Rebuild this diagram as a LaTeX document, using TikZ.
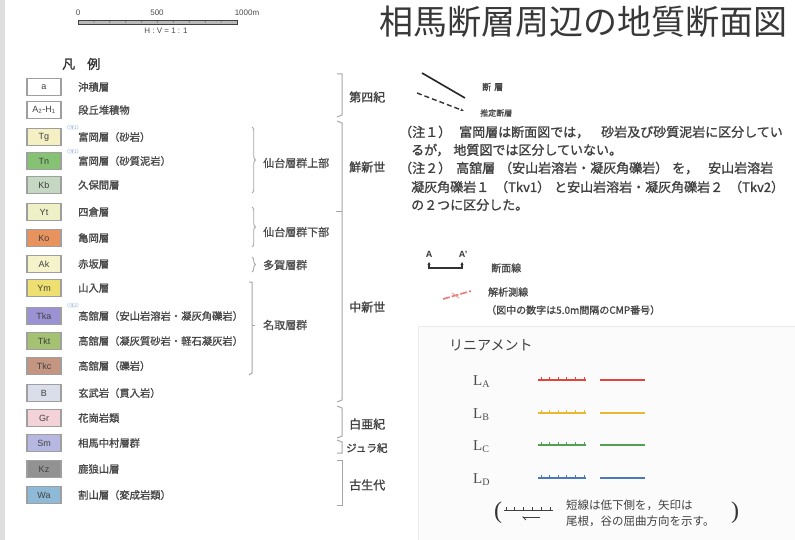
\documentclass[tikz,border=0pt]{standalone}
\usepackage{fontspec}
\setmainfont{Liberation Serif}
\setsansfont{Liberation Sans}
\newfontfamily\jp{Noto Sans CJK JP}
\newfontfamily\jpb[FakeBold=1.2]{Noto Sans CJK JP}
\usetikzlibrary{decorations.pathreplacing,arrows.meta}
\definecolor{cTg}{HTML}{F4F0C4}
\definecolor{cTn}{HTML}{86C274}
\definecolor{cKb}{HTML}{C4D8C2}
\definecolor{cYt}{HTML}{EEF0C6}
\definecolor{cKo}{HTML}{E8925E}
\definecolor{cAk}{HTML}{F6F2CA}
\definecolor{cYm}{HTML}{EEE070}
\definecolor{cTka}{HTML}{9A92D2}
\definecolor{cTkt}{HTML}{A4C272}
\definecolor{cTkc}{HTML}{C49682}
\definecolor{cB}{HTML}{DADEEA}
\definecolor{cGr}{HTML}{F4D2DA}
\definecolor{cSm}{HTML}{B6B8E2}
\definecolor{cKz}{HTML}{929292}
\definecolor{cWa}{HTML}{8EBAD8}
\definecolor{lnA}{HTML}{E0443C}
\definecolor{lnB}{HTML}{E8B832}
\definecolor{lnC}{HTML}{52A052}
\definecolor{lnD}{HTML}{4A78B8}
\tikzset{
  lbox/.style={draw=gray!75, line width=1.4pt, minimum width=34pt, minimum height=17pt, inner sep=0pt, font=\sffamily\fontsize{9}{9}\selectfont, text=black!75},
  ltext/.style={anchor=west, inner sep=0pt, font=\jpb\fontsize{10.3}{11}\selectfont, text=black!72},
  mlabel/.style={anchor=west, inner sep=0pt, font=\jpb\fontsize{11}{11}\selectfont, text=black!70},
  rlabel/.style={anchor=west, inner sep=0pt, font=\jpb\fontsize{12}{12}\selectfont, text=black!75},
  note/.style={anchor=west, inner sep=0pt, font=\jpb\fontsize{13}{13}\selectfont, text=black!75},
  smalltext/.style={anchor=west, inner sep=0pt, font=\jpb\fontsize{10}{11}\selectfont, text=black!72},
  brk/.style={draw=gray!70, line width=1pt},
  mbrace/.style={draw=gray!70, line width=0.9pt, decorate, decoration={brace, amplitude=3.5pt}},
  tick/.style={line width=0.7pt},
  tinynote/.style={anchor=west, inner sep=0pt, font=\jp\fontsize{5}{5}\selectfont, text=lnD!70},
}
\begin{document}
\begin{tikzpicture}[x=1pt,y=-1pt]
\useasboundingbox (0,0) rectangle (795,540);
\fill[white] (0,0) rectangle (795,540);
\fill[gray!25] (0,0) rectangle (5,540);
% scale bar
\coordinate (sb0) at (78,20);
\coordinate (sb1) at (237,24);
\draw[fill=gray!55, draw=gray!50!black, line width=0.7pt] (sb0) rectangle (sb1);
\foreach \k in {1,...,9} \fill[black!70] (78+\k*15.9,22) circle (0.6);
\node[font=\sffamily\fontsize{8}{8}\selectfont, text=black!70] (s0) at (78,13) {0};
\node[font=\sffamily\fontsize{8}{8}\selectfont, text=black!70] (s500) at (157,13) {500};
\node[font=\sffamily\fontsize{8}{8}\selectfont, text=black!70] (s1000) at (247,13) {1000m};
\node[font=\sffamily\fontsize{8}{8}\selectfont, text=black!70] (shv) at (166,31) {H : V = 1 : 1};
% title
\node[anchor=west, inner sep=0pt, font=\jp\fontsize{34}{36}\selectfont, text=black!78] (title) at (379,22) {相馬断層周辺の地質断面図};
% legend heading
\node[anchor=west, inner sep=0pt, font=\jpb\fontsize{13}{13}\selectfont, text=black!80] (hanrei) at (62,64) {凡\hspace{12pt}例};
% legend rows
\foreach \n/\y/\c/\lab/\txt in {
 a/87/white/a/沖積層,
 ah/110/white/{A\textsubscript{2}-H\textsubscript{1}}/段丘堆積物,
 tg/137/cTg/Tg/富岡層（砂岩）,
 tn/161/cTn/Tn/富岡層（砂質泥岩）,
 kb/185/cKb/Kb/久保間層,
 yt/212/cYt/Yt/四倉層,
 ko/238/cKo/Ko/亀岡層,
 ak/264/cAk/Ak/赤坂層,
 ym/288/cYm/Ym/山入層,
 tka/316/cTka/Tka/高舘層（安山岩溶岩・凝灰角礫岩）,
 tkt/341/cTkt/Tkt/高舘層（凝灰質砂岩・軽石凝灰岩）,
 tkc/366/cTkc/Tkc/高舘層（礫岩）,
 b/393/cB/B/玄武岩（貫入岩）,
 gr/418/cGr/Gr/花崗岩類,
 sm/443/cSm/Sm/相馬中村層群,
 kz/469/cKz/Kz/鹿狼山層,
 wa/495/cWa/Wa/割山層（変成岩類）}
{
  \node[lbox, fill=\c] (box-\n) at (44,\y) {\lab};
  \node[ltext] (txt-\n) at (78,\y) {\txt};
}
\node[tinynote] (n1a) at (64,128) {（注1）};
\node[tinynote] (n1b) at (64,152) {（注1）};
\node[tinynote] (n2) at (64,306) {（注2）};
% middle braces
\draw[mbrace] (252,127) -- (252,193);
\node[mlabel] (g1) at (263,163) {仙台層群上部};
\draw[mbrace] (252,207) -- (252,247);
\node[mlabel] (g2) at (263,232) {仙台層群下部};
\draw[mbrace] (252,257) -- (252,272);
\node[mlabel] (g3) at (263,265) {多賀層群};
\draw[brk] (249,282) -- (252,282) -- (252,373) -- (249,375);
\draw[brk] (252,325) -- (255,325);
\node[mlabel] (g4) at (263,325) {名取層群};
% right brackets
\draw[brk] (337,74) -- (342,74) -- (342,115) -- (337,117);
\node[rlabel] (p1) at (349,97) {第四紀};
\draw[brk] (337,121) -- (342,123) -- (342,400) -- (337,402);
\draw[brk] (336,212) -- (342,212);
\node[rlabel] (p2) at (349,167) {鮮新世};
\node[rlabel] (p3) at (349,307) {中新世};
\draw[brk] (337,406) -- (342,408) -- (342,436) -- (337,438);
\node[rlabel] (p4) at (349,424) {白亜紀};
\draw[brk] (337,440) -- (342,442) -- (342,453) -- (337,453);
\node[anchor=west, inner sep=0pt, font=\jpb\fontsize{10.5}{11}\selectfont, text=black!75] (p5) at (346,448) {ジュラ紀};
\draw[brk] (337,460) -- (342,460) -- (342,505) -- (337,505);
\node[rlabel] (p6) at (349,485) {古生代};
% fault symbols
\coordinate (f1a) at (422,73);
\coordinate (f1b) at (465,98);
\draw[line width=1.6pt, black!85] (f1a) -- (f1b);
\coordinate (f2a) at (417,93);
\coordinate (f2b) at (464,111);
\draw[line width=1.4pt, black!80, dash pattern=on 5pt off 3pt, -{Stealth[length=4pt,width=3pt]}] (f2a) -- (f2b);
\node[anchor=west, inner sep=0pt, font=\jpb\fontsize{9}{9}\selectfont, text=black!75] (fault) at (482,87) {断\hspace{3pt}層};
\node[anchor=west, inner sep=0pt, font=\jpb\fontsize{8}{8}\selectfont, text=black!70] (efault) at (480,113) {推定断層};
% notes
\node[note] (nt1) at (399,132) {（注１）\hspace{8pt}富岡層は断面図では，\hspace{12pt}砂岩及び砂質泥岩に区分してい};
\node[note] (nt2) at (411,150) {るが，\hspace{4pt}地質図では区分していない。};
\node[note] (nt3) at (399,168) {（注２）\hspace{5pt}高舘層\hspace{4pt}（安山岩溶岩・凝灰角礫岩）\hspace{4pt}を，\hspace{10pt}安山岩溶岩};
\node[note] (nt4) at (411,187) {凝灰角礫岩１\hspace{6pt}（Tkv1）\hspace{4pt}と安山岩溶岩・凝灰角礫岩２\hspace{6pt}（Tkv2）};
\node[note] (nt5) at (411,205) {の２つに区分した。};
% section line
\node[font=\sffamily\bfseries\fontsize{9}{9}\selectfont, text=black!80, inner sep=0pt] (A) at (429,254) {A};
\node[font=\sffamily\bfseries\fontsize{9}{9}\selectfont, text=black!80, inner sep=0pt] (A2) at (463,254) {A'};
\coordinate (aL) at (429,262);
\coordinate (aR) at (462,262);
\draw[line width=1.1pt, black!80, {Stealth[length=3pt,width=3pt]}-{Stealth[length=3pt,width=3pt]}] (aL) -- ++(0,6) -| (aR);
\node[smalltext] (dmsen) at (491,268) {断面線};
% analysis line
\coordinate (k1) at (443,299);
\coordinate (k2) at (471,291);
\draw[line width=1.6pt, lnA!70, dash pattern=on 7pt off 2pt] (k1) -- (k2);
\draw[line width=0.8pt, lnA!60] (452,293) -- (459,298);
\node[smalltext] (kaiseki) at (488,292) {解析測線};
\node[smalltext] (cmp) at (486,310) {（図中の数字は5.0m間隔のCMP番号）};
% lineament box
\draw[draw=gray!15, fill=gray!3] (418,326) rectangle (796,541);
\node[anchor=west, inner sep=0pt, font=\jp\fontsize{14}{14}\selectfont, text=black!75] (lin) at (449,345) {リニアメント};
\foreach \n/\y/\c/\s in {A/382/lnA/A, B/415/lnB/B, C/447/lnC/C, D/480/lnD/D}{
  \node[anchor=west, inner sep=0pt, font=\rmfamily\fontsize{15}{15}\selectfont, text=black!70] (L\n) at (473,\y) {L\textsubscript{\fontsize{10}{10}\selectfont\s}};
  \coordinate (t\n a) at (538,\y-2);
  \coordinate (t\n b) at (586,\y-2);
  \draw[\c, line width=1.1pt] (t\n a) -- (t\n b);
  \foreach \k in {0,...,5} \draw[\c, tick] (541+\k*8.6,\y-2) -- ++(0,-3.5);
  \coordinate (s\n a) at (600,\y-2);
  \coordinate (s\n b) at (645,\y-2);
  \draw[\c, line width=1.1pt] (s\n a) -- (s\n b);
}
% explanation
\node[anchor=center, inner sep=0pt, font=\rmfamily\fontsize{24}{24}\selectfont, text=black!80] (lp) at (498,513) {(};
\node[anchor=center, inner sep=0pt, font=\rmfamily\fontsize{24}{24}\selectfont, text=black!80] (rp) at (735,513) {)};
\coordinate (ea) at (504,510);
\coordinate (eb) at (553,510);
\draw[black!75, line width=0.9pt] (ea) -- (eb);
\foreach \k in {0,...,5} \draw[black!75, tick] (506+\k*8.8,510) -- ++(0,-3.5);
\coordinate (arA) at (540,517);
\coordinate (arB) at (522,517);
\draw[black!75, line width=0.8pt, -{Straight Barb[left,length=3pt]}] (arA) -- (arB);
\node[anchor=west, inner sep=0pt, font=\jp\fontsize{11.5}{12}\selectfont, text=black!75] (ex1) at (566,505) {短線は低下側を，矢印は};
\node[anchor=west, inner sep=0pt, font=\jp\fontsize{11.5}{12}\selectfont, text=black!75] (ex2) at (566,521) {尾根，谷の屈曲方向を示す。};
\end{tikzpicture}
\end{document}
